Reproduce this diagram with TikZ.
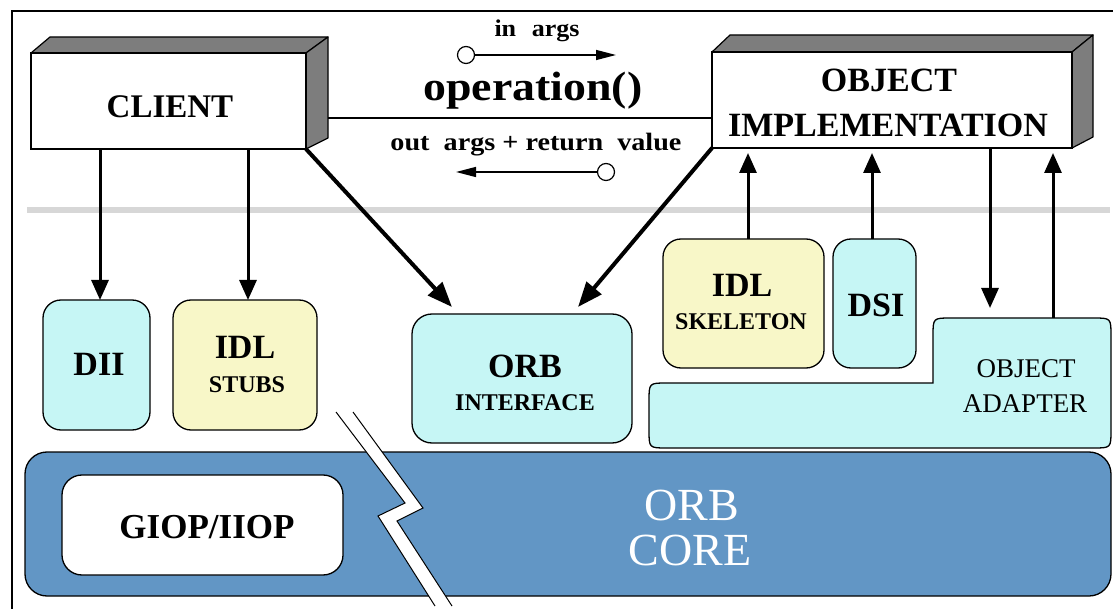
\documentclass[tikz,border=0pt]{standalone}
\usepackage{fontspec}
\usepackage{graphicx}
\setmainfont{Liberation Serif}
\usetikzlibrary{arrows.meta,calc}
\definecolor{cyanfill}{RGB}{198,246,245}
\definecolor{yelfill}{RGB}{248,247,200}
\definecolor{corefill}{RGB}{98,150,197}
\definecolor{barfill}{RGB}{215,215,215}
\definecolor{facefill}{RGB}{125,125,125}
\newcommand{\fsz}[1]{\fontsize{#1}{#1}\selectfont}
\begin{document}
\begin{tikzpicture}[x=1pt,y=-1pt,
  box/.style={draw=black, line width=1.3pt, inner sep=0pt, outer sep=0pt},
  rbox/.style={box, rounded corners=18pt},
  flat/.style={box, fill=white, line width=1.5pt},
  face/.style={draw=black, line width=1.2pt, fill=facefill, line join=round},
  lbl/.style={inner sep=0pt, anchor=base},
  bigb/.style={lbl, font=\fsz{34}\bfseries},
  smallb/.style={lbl, font=\fsz{24}\bfseries},
  arrA/.style={line width=3pt, -{Triangle[length=20pt,width=17pt]}},
  arrB/.style={line width=4pt, -{Triangle[length=25pt,width=19pt]}},
  arrS/.style={line width=1.4pt, -{Triangle[length=20pt,width=10pt]}},
  dot/.style={circle, draw=black, line width=1.2pt, fill=white, minimum size=17pt, inner sep=0pt, outer sep=0pt}
]
\useasboundingbox (0,0) rectangle (1113,609);
% frame
\draw[line width=1.3pt] (12,609) -- (12,11) -- (1113,11);
% grey separator
\fill[barfill] (27,207) rectangle (1110,213);

% ORB core band
\node[rbox, fill=corefill, minimum width=1086pt, minimum height=144pt, rounded corners=22pt] (core) at (568,524) {};
\node[rbox, fill=white, minimum width=281pt, minimum height=100pt, rounded corners=20pt] (giop) at (202.5,525) {};
\node[lbl, font=\fsz{35}\bfseries] (giopt) at (207,538) {GIOP/IIOP};
\node[lbl, font=\fsz{46}, text=white] (coret1) at (692,520) {ORB};
\node[lbl, font=\fsz{46}, text=white] (coret2) at (690,565) {CORE};

% break band
\fill[white] (336,412) -- (405,503) -- (378,516) -- (435,606) -- (452,606) -- (397,521) -- (423,508) -- (353,412) -- cycle;
\draw[line width=1pt] (336,412) -- (405,503) -- (378,516) -- (435,606);
\draw[line width=1pt] (353,412) -- (423,508) -- (397,521) -- (452,606);

% second row boxes
\node[rbox, fill=cyanfill, minimum width=107pt, minimum height=130pt] (dii) at (96.5,365) {};
\node[bigb] (diit) at (99,375) {DII};
\node[rbox, fill=yelfill, minimum width=144pt, minimum height=130pt] (stubs) at (245,365) {};
\node[bigb] (stubst1) at (245,358) {IDL};
\node[smallb] (stubst2) at (247,392) {STUBS};
\node[rbox, fill=cyanfill, minimum width=220pt, minimum height=129pt, rounded corners=20pt] (orbif) at (522,378.5) {};
\node[bigb] (orbift1) at (525,377) {ORB};
\node[smallb] (orbift2) at (525,410) {INTERFACE};
\node[rbox, fill=yelfill, minimum width=161pt, minimum height=129pt] (skel) at (743.5,303.5) {};
\node[bigb] (skelt1) at (742,297) {IDL};
\node[smallb] (skelt2) at (741,330) {SKELETON};
\node[rbox, fill=cyanfill, minimum width=83pt, minimum height=129pt] (dsi) at (874.5,303.5) {};
\node[bigb] (dsit) at (876,317) {DSI};
% object adapter (stepped shape)
\node[inner sep=0pt, outer sep=0pt, minimum width=178pt, minimum height=130pt] (oaup) at (1022,383) {};
\draw[box, fill=cyanfill]
  (933,383) -- (933,336) .. controls (933,318) .. (951,318) -- (1093,318)
  .. controls (1111,318) .. (1111,336) -- (1111,430)
  .. controls (1111,448) .. (1093,448) -- (667,448)
  .. controls (649,448) .. (649,430) -- (649,401)
  .. controls (649,383) .. (667,383) -- cycle;
\node[lbl, font=\fsz{27}] (oat1) at (1026,377) {OBJECT};
\node[lbl, font=\fsz{27}] (oat2) at (1025,412) {ADAPTER};

% 3D boxes
\draw[face] (31,53) -- (50,37) -- (328,37) -- (306,53) -- cycle;
\draw[face] (306,53) -- (328,37) -- (328,138) -- (306,149) -- cycle;
\node[flat, minimum width=275pt, minimum height=96pt] (client) at (168.5,101) {};
\node[bigb, font=\fsz{33}\bfseries] (clientt) at (170,118) {CLIENT};

\draw[face] (712,52) -- (730,35) -- (1093,35) -- (1072,52) -- cycle;
\draw[face] (1072,52) -- (1093,35) -- (1093,137) -- (1072,148) -- cycle;
\node[flat, minimum width=360pt, minimum height=96pt] (objimpl) at (892,100) {};
\node[bigb] (objt1) at (889,92) {OBJECT};
\node[bigb] (objt2) at (888,137) {IMPLEMENTATION};

% operation link
\draw[line width=1.3pt] ($(client.east)+(22,17)$) -- ($(objimpl.west)+(0,18)$);
\node[lbl] (inargs) at (537,37) {\resizebox{85pt}{\height}{\fsz{24}\bfseries in\hspace{0.6em}args}};
\node[lbl] (oper) at (533,101) {\resizebox{219pt}{\height}{\fsz{41}\bfseries operation()}};
\node[lbl] (outargs) at (536,151) {\resizebox{291pt}{\height}{\fsz{25}\bfseries out\hspace{0.5em}args + return\hspace{0.5em}value}};
\node[dot] (c1) at (466,55) {};
\coordinate (c1end) at (616,55);
\draw[arrS] (c1.east) -- (c1end);
\node[dot] (c2) at (606,172) {};
\coordinate (c2end) at (456,172);
\draw[arrS] (c2.west) -- (c2end);

% arrows
\draw[arrA] ($(client.south west)+(69,0)$) -- ($(dii.north)+(3.5,0)$);
\draw[arrA] ($(client.south west)+(217,0)$) -- ($(stubs.north)+(3,0)$);
\draw[arrB] (client.south east) -- ($(orbif.north west)+(40,-7)$);
\draw[arrB] (objimpl.south west) -- ($(orbif.north east)+(-54,-7)$);
\draw[arrA] ($(skel.north)+(4.5,0)$) -- ($(objimpl.south west)+(36,5)$);
\draw[arrA] ($(dsi.north)+(-2.5,0)$) -- ($(objimpl.south west)+(160,5)$);
\draw[arrA] ($(objimpl.south west)+(278,0)$) -- ($(oaup.north west)+(57,-10)$);
\draw[arrA] ($(oaup.north west)+(120,0)$) -- ($(objimpl.south west)+(341,5)$);
\end{tikzpicture}
\end{document}
